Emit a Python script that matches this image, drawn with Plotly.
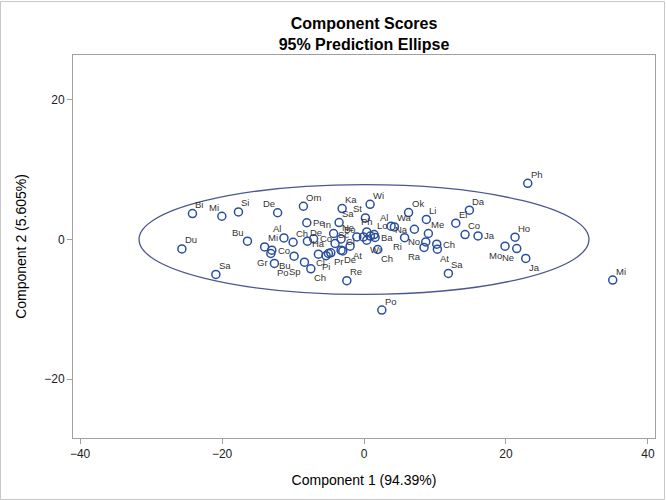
import plotly.graph_objects as go

# Principal component scores
labels = ["Du","Bi","Mi","Si","De","Bu","Sa","Al","Ch","Mi","Co","Gr","Bu","Po","Sp","Ch",
          "Om","Ka","Wi","Ok","Li","Sa","St","Pe","In","De","Co","Bo","Sc","Cl","De","Ha",
          "Cl","Pi","Pr","At","Ne","Ph","","Lo","Ba","Wi","Ch","Al","Wa","Na","Ri","No",
          "Ra","Me","Ch","At","Sa","El","Da","Co","Ja","Ho","Mo","Ne","Ja","Ph","Mi","Po","Re",""]
comp1 = [-25.66,-24.17,-20.03,-17.69,-12.17,-16.42,-20.87,-11.28,-9.99,-14.0,-12.99,-13.13,-9.85,-12.62,-8.39,-7.49,
         -8.54,-3.08,0.86,6.28,8.79,-3.51,0.2,-8.06,-4.28,-7.97,-7.1,-3.23,-4.07,-2.99,-3.23,-6.42,
         -5.01,-5.34,-4.68,-1.96,-1.01,0.39,-0.08,1.42,1.56,0.39,1.94,3.82,4.28,7.1,5.72,8.7,
         8.46,9.07,10.25,10.34,11.89,12.93,14.85,14.24,16.07,21.28,19.87,21.52,22.79,23.07,35.04,2.51,-2.42,0.9]
comp2 = [-1.34,3.71,3.33,3.94,3.83,-0.24,-5.0,0.23,-0.39,-1.06,-1.53,-2.0,-2.39,-3.43,-3.24,-4.2,
         4.76,4.43,5.04,3.86,2.87,2.43,3.09,2.4,0.86,-0.24,0.11,0.09,-0.57,-1.63,-1.53,-2.1,
         -2.0,-2.31,-1.91,-0.96,0.37,1.09,0.37,0.71,0.29,-0.1,-1.43,1.9,1.8,1.47,0.26,-0.34,
         -1.14,0.86,-0.67,-1.39,-4.86,2.33,4.19,0.71,0.51,0.33,-0.96,-1.29,-2.71,8.04,-5.81,-10.1,-5.89,0.5]
label_pos = ["top right","top right","top left","top right","top left","top left","top right","top left",
             "top right","top right","middle right","bottom left","bottom left","bottom right","bottom left","bottom right",
             "top right","top right","top right","top right","top right","top right","top left","middle right",
             "top left","top right","middle right","top right","top right","top right","bottom right","top center",
             "bottom left","bottom center","bottom right","bottom right","top left","top center","top right","top right",
             "middle right","bottom right","bottom right","top left","top right","middle left","bottom left","middle left",
             "bottom left","top right","middle right","bottom right","top right","top right","top right","top right",
             "middle right","top right","bottom left","bottom left","bottom right","top right","top right","top right",
             "top right","top right"]

# 95% prediction ellipse (center and semi-axes)
ell_center = [0.0, 0.0]
ell_semi = [31.7, 7.85]

x_ticks = [-40, -20, 0, 20, 40]
y_ticks = [-20, 0, 20]

FONT = "Liberation Sans, Arial, sans-serif"
marker_col = "#2A4E9E"
ell_col = "#4A5790"

fig = go.Figure()
fig.add_shape(type="circle", xref="x", yref="y",
              x0=ell_center[0] - ell_semi[0], x1=ell_center[0] + ell_semi[0],
              y0=ell_center[1] - ell_semi[1], y1=ell_center[1] + ell_semi[1],
              line=dict(color=ell_col, width=1.3), layer="below")
fig.add_trace(go.Scatter(
    x=comp1, y=comp2, mode="markers",
    marker=dict(symbol="circle-open", size=8, color=marker_col, line=dict(width=1.5, color=marker_col)),
    showlegend=False, cliponaxis=False))

# label placement offsets (pixels) for each placement keyword
def anchor_for(pos):
    v, h = pos.split(" ")
    xa = {"right": "left", "left": "right", "center": "center"}[h]
    ya = {"top": "bottom", "bottom": "top", "middle": "middle"}[v]
    xs = {"right": 2, "left": -2, "center": 0}[h]
    if v == "middle":
        xs = {"right": 5, "left": -5, "center": 0}[h]
    ys = {"top": 2.5, "bottom": -2.5, "middle": 0}[v]
    if h == "center":
        ys = {"top": 4, "bottom": -4, "middle": 0}[v]
    return xa, ya, xs, ys

for xv, yv, t, p in zip(comp1, comp2, labels, label_pos):
    if not t:
        continue
    xa, ya, xs, ys = anchor_for(p)
    fig.add_annotation(x=xv, y=yv, text=t, showarrow=False, xanchor=xa, yanchor=ya,
                       xshift=xs, yshift=ys, borderpad=0,
                       font=dict(family=FONT, size=9.5, color="#333333"))

L, R, T, B = 73, 11, 55, 62
W, H = 666, 500
pw, ph = W - L - R, H - T - B
fig.add_shape(type="rect", xref="paper", yref="paper",
              x0=-L / pw + 0.5 / pw, x1=1 + (R - 1.5) / pw,
              y0=-B / ph + 0.5 / ph, y1=1 + (T - 1.5) / ph,
              line=dict(color="#C8C8C8", width=1))

fig.update_layout(
    width=W, height=H, margin=dict(l=L, r=R, t=T, b=B),
    paper_bgcolor="white", plot_bgcolor="white",
    title=dict(text="<b>Component Scores</b><br><b>95% Prediction Ellipse</b>",
               x=0.5, xref="paper", y=1 - 29 / H, yref="container", yanchor="middle",
               font=dict(family=FONT, size=16, color="black")),
    font=dict(family=FONT, color="black"),
    xaxis=dict(range=[-41, 41], tickvals=x_ticks, showgrid=False, zeroline=False,
               showline=True, mirror=True, linecolor="#A0A0A0", linewidth=1,
               ticks="outside", ticklen=5, tickcolor="#A0A0A0",
               tickfont=dict(family=FONT, size=12, color="#222222"),
               title=dict(text="Component 1 (94.39%)", font=dict(family=FONT, size=14, color="black"), standoff=14)),
    yaxis=dict(range=[-28.4, 26.4], tickvals=y_ticks, showgrid=False, zeroline=False,
               showline=True, mirror=True, linecolor="#A0A0A0", linewidth=1,
               ticks="outside", ticklen=5, tickcolor="#A0A0A0",
               tickfont=dict(family=FONT, size=12, color="#222222"),
               title=dict(text="Component 2 (5.605%)", font=dict(family=FONT, size=14, color="black"), standoff=14)),
)

fig.write_html("out.html")
